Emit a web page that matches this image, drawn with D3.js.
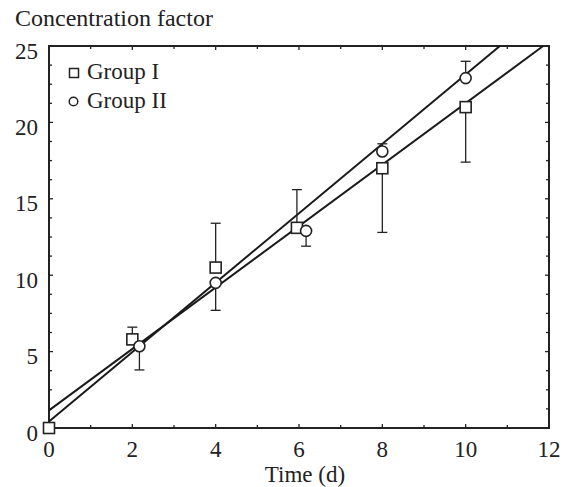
<!DOCTYPE html>
<html lang="en">
<head>
<meta charset="utf-8">
<title>Concentration factor</title>
<script src="https://d3js.org/d3.v7.min.js"></script>
<style>
  body { margin: 0; background: #fff; }
  svg text { font-family: "Liberation Serif", "Times New Roman", serif; fill: #222; }
</style>
</head>
<body>
<div id="chart"></div>
<script>
// ---- data ----
var timeI  = [0, 2, 4, 5.95, 8, 10];
var valI   = [0, 5.8, 10.5, 13.1, 17.0, 21.0];
var errEndI = [null, 6.6, 13.4, 15.6, 12.8, 17.4];   // one-sided bar ends

var timeII = [2.17, 4.0, 6.17, 8.0, 10.0];
var valII  = [5.35, 9.5, 12.9, 18.1, 22.9];
var errEndII = [3.8, 7.7, 11.9, 18.6, 24.0];

// fitted lines (end points)
var fitIx = [0, 11.86], fitIy = [1.15, 25];
var fitIIx = [0, 10.82], fitIIy = [0.43, 25];

var xTicks = [0, 2, 4, 6, 8, 10, 12];
var yTicks = [0, 5, 10, 15, 20, 25];

var width = 568, height = 487;

var svg = d3.select("#chart").append("svg")
    .attr("width", width)
    .attr("height", height);

var x = d3.scaleLinear().domain([0, 12]).range([49, 549]);
var y = d3.scaleLinear().domain([0, 25]).range([428, 46]);

// minor ticks
var xMinor = d3.range(0, 12.01, 1);
var yMinor = d3.range(0, 25.01, 1.25);

var ticks = svg.append("g").attr("stroke", "#222").attr("stroke-width", 1.3);
xMinor.forEach(function(v) {
    var len = (v % 2 === 0) ? 4 : 3;
    ticks.append("line").attr("x1", x(v)).attr("x2", x(v)).attr("y1", y(0)).attr("y2", y(0) - len);
    ticks.append("line").attr("x1", x(v)).attr("x2", x(v)).attr("y1", y(25)).attr("y2", y(25) + len);
});
yMinor.forEach(function(v) {
    var len = (v % 5 === 0) ? 4 : 3;
    ticks.append("line").attr("y1", y(v)).attr("y2", y(v)).attr("x1", x(0)).attr("x2", x(0) + len);
    ticks.append("line").attr("y1", y(v)).attr("y2", y(v)).attr("x1", x(12)).attr("x2", x(12) - len);
});

// frame
svg.append("rect")
    .attr("x", x(0)).attr("y", y(25))
    .attr("width", x(12) - x(0)).attr("height", y(0) - y(25))
    .attr("fill", "none").attr("stroke", "#222").attr("stroke-width", 2);

// tick labels
svg.append("g").selectAll("text").data(xTicks).enter().append("text")
    .attr("x", function(d) { return x(d); })
    .attr("y", 457)
    .attr("text-anchor", "middle")
    .attr("font-size", 23)
    .text(function(d) { return d; });

svg.append("g").selectAll("text").data(yTicks).enter().append("text")
    .attr("x", 38)
    .attr("y", function(d) { return y(d) + 12.5; })
    .attr("text-anchor", "end")
    .attr("font-size", 23)
    .text(function(d) { return d; });

// axis titles
svg.append("text").attr("x", 15).attr("y", 26).attr("font-size", 24).text("Concentration factor");
svg.append("text").attr("x", 305).attr("y", 482).attr("text-anchor", "middle")
    .attr("font-size", 23).text("Time (d)");

// fitted lines
var line = d3.line().x(function(d) { return x(d[0]); }).y(function(d) { return y(d[1]); });
svg.append("path").datum(d3.zip(fitIx, fitIy)).attr("d", line)
    .attr("fill", "none").attr("stroke", "#1a1a1a").attr("stroke-width", 2);
svg.append("path").datum(d3.zip(fitIIx, fitIIy)).attr("d", line)
    .attr("fill", "none").attr("stroke", "#1a1a1a").attr("stroke-width", 2);

// error bars
function errorBars(xs, vs, ends) {
    var g = svg.append("g").attr("stroke", "#222").attr("stroke-width", 1.3);
    xs.forEach(function(t, i) {
        if (ends[i] == null) return;
        g.append("line").attr("x1", x(t)).attr("x2", x(t)).attr("y1", y(vs[i])).attr("y2", y(ends[i]));
        g.append("line").attr("x1", x(t) - 5).attr("x2", x(t) + 5).attr("y1", y(ends[i])).attr("y2", y(ends[i]));
    });
}
errorBars(timeI, valI, errEndI);
errorBars(timeII, valII, errEndII);

// markers
svg.append("g").selectAll("rect").data(d3.zip(timeI, valI)).enter().append("rect")
    .attr("x", function(d) { return x(d[0]) - 5.5; })
    .attr("y", function(d) { return y(d[1]) - 5.5; })
    .attr("width", 11).attr("height", 11)
    .attr("fill", "#fff").attr("stroke", "#222").attr("stroke-width", 1.6);

svg.append("g").selectAll("circle").data(d3.zip(timeII, valII)).enter().append("circle")
    .attr("cx", function(d) { return x(d[0]); })
    .attr("cy", function(d) { return y(d[1]); })
    .attr("r", 5.5)
    .attr("fill", "#fff").attr("stroke", "#222").attr("stroke-width", 1.6);

// legend
var leg = svg.append("g");
leg.append("rect").attr("x", 69.5).attr("y", 68.5).attr("width", 9).attr("height", 9)
    .attr("fill", "#fff").attr("stroke", "#222").attr("stroke-width", 1.5);
leg.append("text").attr("x", 87).attr("y", 79).attr("font-size", 23).text("Group I");
leg.append("circle").attr("cx", 73.5).attr("cy", 101.5).attr("r", 4.3)
    .attr("fill", "#fff").attr("stroke", "#222").attr("stroke-width", 1.5);
leg.append("text").attr("x", 87).attr("y", 108).attr("font-size", 23).text("Group II");
</script>
</body>
</html>
